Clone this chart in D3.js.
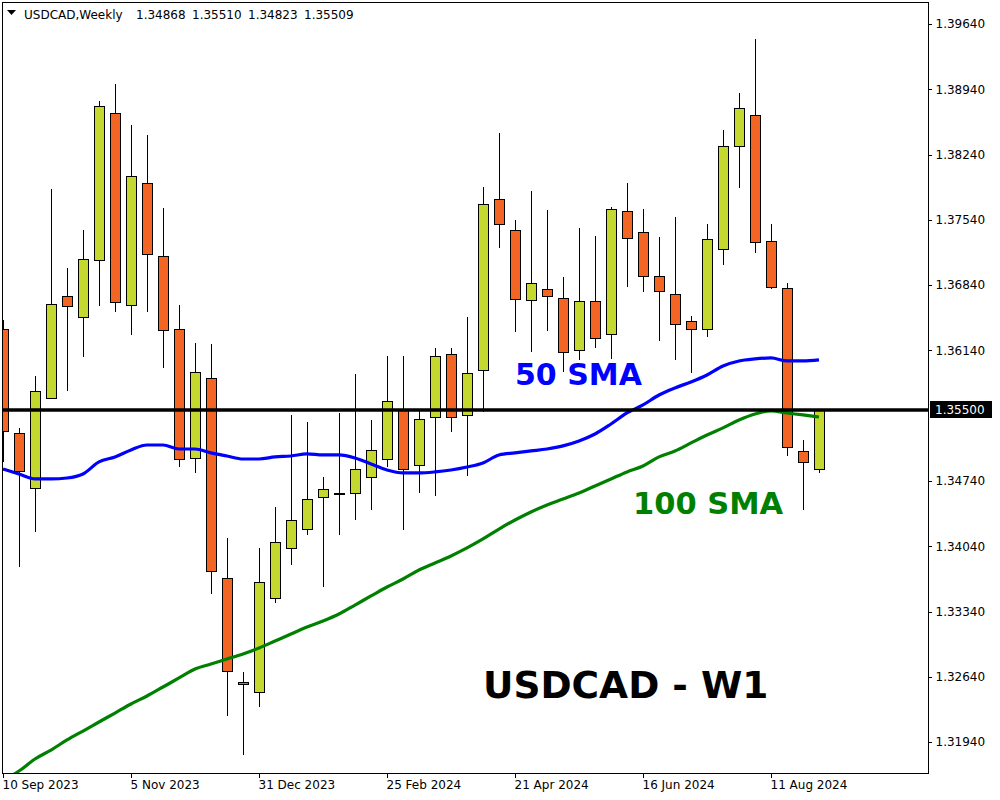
<!DOCTYPE html>
<html>
<head>
<meta charset="utf-8">
<script src="https://cdn.jsdelivr.net/npm/d3@7"></script>
<style>
  body { margin: 0; background: #fff; }
  svg { display: block; }
  text { font-family: "DejaVu Sans", sans-serif; }
</style>
</head>
<body>
<div id="body"></div>
<script>
// weekly candles, first one is the week of 10 Sep 2023
var opens = [1.36370, 1.35255, 1.34665, 1.35630, 1.36724, 1.36499, 1.37110, 1.38687, 1.36628, 1.37936,
  1.37153, 1.36370, 1.34987, 1.35845, 1.33700, 1.32585, 1.32477, 1.33485, 1.34022, 1.34225,
  1.34569, 1.34611, 1.34611, 1.34783, 1.34976, 1.35512, 1.34912, 1.35426, 1.36102, 1.35448,
  1.35931, 1.37764, 1.37432, 1.36681, 1.36799, 1.36703, 1.36145, 1.36670, 1.36317, 1.37636,
  1.37410, 1.36939, 1.36746, 1.36456, 1.36370, 1.37228, 1.38333, 1.38665, 1.37314, 1.36810,
  1.35062, 1.34868];
var highs = [1.36467, 1.35309, 1.35866, 1.37872, 1.37024, 1.37432, 1.38815, 1.38998, 1.38558, 1.38451,
  1.37668, 1.36628, 1.36220, 1.36209, 1.34129, 1.32692, 1.34022, 1.34461, 1.35448, 1.35373,
  1.34783, 1.35469, 1.35888, 1.35394, 1.36081, 1.36081, 1.35512, 1.36166, 1.36166, 1.36499,
  1.37893, 1.38472, 1.37539, 1.37850, 1.37646, 1.36928, 1.37453, 1.37368, 1.37679, 1.37936,
  1.37657, 1.37357, 1.37571, 1.36510, 1.37496, 1.38504, 1.38901, 1.39480, 1.37496, 1.36864,
  1.35180, 1.35510];
var lows = [1.34944, 1.33818, 1.34193, 1.35620, 1.35705, 1.36070, 1.36617, 1.36553, 1.36306, 1.36553,
  1.35952, 1.34890, 1.34826, 1.33528, 1.32220, 1.31802, 1.32317, 1.33432, 1.33839, 1.34161,
  1.33603, 1.34161, 1.34322, 1.34429, 1.34890, 1.34215, 1.34611, 1.34579, 1.35266, 1.34794,
  1.35480, 1.37239, 1.36338, 1.36124, 1.36349, 1.35909, 1.36038, 1.36166, 1.36049, 1.36821,
  1.36767, 1.36242, 1.36038, 1.35898, 1.36284, 1.37057, 1.37882, 1.37185, 1.36799, 1.35008,
  1.34429, 1.34823];
var closes = [1.35276, 1.34847, 1.35705, 1.36638, 1.36617, 1.37121, 1.38762, 1.36660, 1.38011, 1.37175,
  1.36360, 1.34976, 1.35909, 1.33775, 1.32703, 1.32563, 1.33657, 1.34086, 1.34322, 1.34547,
  1.34654, 1.34611, 1.34869, 1.35073, 1.35598, 1.34869, 1.35405, 1.36081, 1.35426, 1.35898,
  1.37711, 1.37496, 1.36692, 1.36864, 1.36724, 1.36124, 1.36670, 1.36274, 1.37657, 1.37346,
  1.36939, 1.36778, 1.36424, 1.36370, 1.37335, 1.38333, 1.38740, 1.37303, 1.36821, 1.35105,
  1.34944, 1.35509];

var sma50 = [1.34869, 1.34815, 1.34762, 1.34762, 1.34772, 1.34815, 1.34944, 1.34998, 1.35073, 1.35126,
  1.35126, 1.35083, 1.35083, 1.35041, 1.35008, 1.34976, 1.34976, 1.34998, 1.35008, 1.35030,
  1.35019, 1.35019, 1.34987, 1.34922, 1.34858, 1.34826, 1.34826, 1.34837, 1.34858, 1.34890,
  1.34933, 1.35019, 1.35041, 1.35062, 1.35083, 1.35116, 1.35169, 1.35244, 1.35351, 1.35469,
  1.35555, 1.35662, 1.35738, 1.35802, 1.35877, 1.35973, 1.36027, 1.36049, 1.36059, 1.36027,
  1.36027, 1.36038];
var sma100 = [1.31523, 1.31630, 1.31759, 1.31855, 1.31963, 1.32059, 1.32156, 1.32252, 1.32349, 1.32435,
  1.32531, 1.32628, 1.32724, 1.32778, 1.32831, 1.32885, 1.32949, 1.33024, 1.33099, 1.33175,
  1.33239, 1.33314, 1.33410, 1.33507, 1.33603, 1.33689, 1.33786, 1.33861, 1.33936, 1.34022,
  1.34118, 1.34225, 1.34322, 1.34408, 1.34483, 1.34547, 1.34611, 1.34687, 1.34762, 1.34837,
  1.34901, 1.34998, 1.35062, 1.35148, 1.35233, 1.35309, 1.35394, 1.35459, 1.35491, 1.35469,
  1.35448, 1.35426];

var priceTicks = [1.39640, 1.38940, 1.38240, 1.37540, 1.36840, 1.36140, 1.34740, 1.34040, 1.33340, 1.32640, 1.31940];
var dateTicks = [0, 8, 16, 24, 32, 40, 48];
var dateLabels = ["10 Sep 2023", "5 Nov 2023", "31 Dec 2023", "25 Feb 2024", "21 Apr 2024", "16 Jun 2024", "11 Aug 2024"];
var levelPrice = 1.35500;
var symbol = "USDCAD,Weekly";

var width = 1000, height = 800;
var plot = { left: 2, top: 2, right: 928, bottom: 773 };

var bull = "#c4d82f", bear = "#f26522";

var svg = d3.select("#body")
  .append("svg")
  .attr("width", width)
  .attr("height", height);

var x = d3.scaleLinear()
  .domain([0, 57.8125])
  .range([3, plot.right]);

var y = d3.scaleLinear()
  .domain([1.31609, 1.39865])
  .range([plot.bottom, 3]);

svg.append("clipPath")
  .attr("id", "clip")
  .append("rect")
  .attr("x", plot.left + 1)
  .attr("y", plot.top + 1)
  .attr("width", plot.right - plot.left - 1)
  .attr("height", plot.bottom - plot.top - 1);

var g = svg.append("g").attr("clip-path", "url(#clip)");

var candles = opens.map(function(o, i) {
  return { i: i, o: o, h: highs[i], l: lows[i], c: closes[i] };
});

var cg = g.append("g").attr("shape-rendering", "crispEdges");

cg.selectAll("line.wick")
  .data(candles)
  .enter().append("line")
  .attr("class", "wick")
  .attr("x1", function(d) { return Math.round(x(d.i)) + 0.5; })
  .attr("x2", function(d) { return Math.round(x(d.i)) + 0.5; })
  .attr("y1", function(d) { return y(d.h); })
  .attr("y2", function(d) { return y(d.l); })
  .attr("stroke", "#000")
  .attr("stroke-width", 1);

cg.selectAll("rect.body")
  .data(candles)
  .enter().append("rect")
  .attr("class", "body")
  .attr("x", function(d) { return Math.round(x(d.i)) - 4.5; })
  .attr("width", 10)
  .attr("y", function(d) { return Math.round(y(Math.max(d.o, d.c))) + 0.5; })
  .attr("height", function(d) { return Math.max(1, Math.round(Math.abs(y(d.o) - y(d.c)))); })
  .attr("fill", function(d) { return d.c > d.o ? bull : (d.c < d.o ? bear : "#000"); })
  .attr("stroke", "#000")
  .attr("stroke-width", 1);

var line = d3.line()
  .x(function(d, i) { return x(i); })
  .y(function(d) { return y(d); })
  .curve(d3.curveMonotoneX);

g.append("path")
  .datum(sma100)
  .attr("fill", "none")
  .attr("stroke", "#008000")
  .attr("stroke-width", 3.2)
  .attr("d", line);

g.append("path")
  .datum(sma50)
  .attr("fill", "none")
  .attr("stroke", "#0000ff")
  .attr("stroke-width", 3.2)
  .attr("d", line);

// horizontal level
g.append("line")
  .attr("x1", plot.left)
  .attr("x2", plot.right)
  .attr("y1", y(levelPrice))
  .attr("y2", y(levelPrice))
  .attr("stroke", "#000")
  .attr("stroke-width", 3.5);

// annotations
svg.append("text")
  .attr("x", 515)
  .attr("y", 385)
  .attr("font-size", 30)
  .attr("font-weight", "bold")
  .attr("fill", "#0000ff")
  .text("50 SMA");

svg.append("text")
  .attr("x", 633)
  .attr("y", 514)
  .attr("font-size", 30.5)
  .attr("font-weight", "bold")
  .attr("fill", "#008000")
  .text("100 SMA");

svg.append("text")
  .attr("x", 483)
  .attr("y", 698)
  .attr("font-size", 37.5)
  .attr("font-weight", "bold")
  .attr("fill", "#000")
  .text("USDCAD - W1");

// frame
svg.append("rect")
  .attr("x", plot.left + 0.5)
  .attr("y", plot.top + 0.5)
  .attr("width", plot.right - plot.left)
  .attr("height", plot.bottom - plot.top)
  .attr("fill", "none")
  .attr("stroke", "#000")
  .attr("shape-rendering", "crispEdges");

// price axis
var yAxis = svg.append("g")
  .attr("transform", "translate(" + (plot.right + 0.5) + ",0)")
  .call(d3.axisRight(y)
    .tickValues(priceTicks)
    .tickFormat(d3.format(".5f"))
    .tickSize(3)
    .tickPadding(4));
yAxis.select(".domain").remove();
yAxis.selectAll("text").attr("font-size", 12).attr("font-family", "DejaVu Sans").attr("fill", "#000");
yAxis.selectAll("line").attr("shape-rendering", "crispEdges");

// date axis
var xAxis = svg.append("g")
  .attr("transform", "translate(0," + (plot.bottom + 0.5) + ")")
  .call(d3.axisBottom(x)
    .tickValues(dateTicks)
    .tickFormat(function(d, i) { return dateLabels[i]; })
    .tickSize(4)
    .tickPadding(3));
xAxis.select(".domain").remove();
xAxis.selectAll("text")
  .attr("font-size", 12)
  .attr("font-family", "DejaVu Sans")
  .attr("fill", "#000")
  .attr("text-anchor", "start")
  .attr("x", -1);
xAxis.selectAll("line").attr("shape-rendering", "crispEdges");

// current level label
svg.append("rect")
  .attr("x", 930)
  .attr("y", Math.round(y(levelPrice)) - 9)
  .attr("width", 62)
  .attr("height", 17)
  .attr("fill", "#000");

svg.append("text")
  .attr("x", 935)
  .attr("y", y(levelPrice))
  .attr("dy", "0.36em")
  .attr("font-size", 12)
  .attr("fill", "#fff")
  .text(d3.format(".5f")(levelPrice));

// header
svg.append("path")
  .attr("d", "M7,10L16,10L11.5,15Z")
  .attr("fill", "#000");

var last = candles[candles.length - 1];
var header = svg.append("g").attr("font-size", 12).attr("fill", "#000");
header.append("text").attr("x", 24).attr("y", 19).text(symbol);
header.selectAll("text.v")
  .data([last.o, last.h, last.l, last.c])
  .enter().append("text")
  .attr("class", "v")
  .attr("x", function(d, i) { return 136 + i * 56; })
  .attr("y", 19)
  .text(d3.format(".5f"));
</script>
</body>
</html>
